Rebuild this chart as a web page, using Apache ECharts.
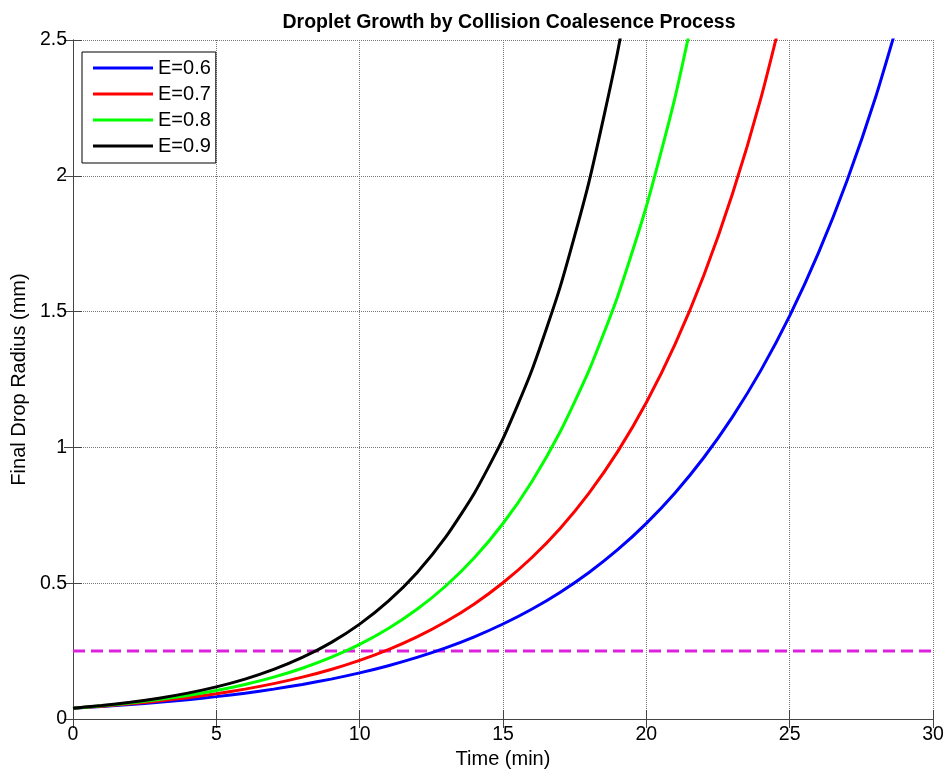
<!DOCTYPE html>
<html>
<head>
<meta charset="utf-8">
<script src="https://cdn.jsdelivr.net/npm/echarts@6/dist/echarts.min.js"></script>
<style>html,body{margin:0;padding:0;background:#fff;}#c{width:948px;height:777px;}</style>
</head>
<body>
<div id="c"></div>
<script>
var titleText = 'Droplet Growth by Collision Coalesence Process';
var seriesNames = ['E=0.6', 'E=0.7', 'E=0.8', 'E=0.9'];
var threshold = 0.25;
var xTicks = [0, 5, 10, 15, 20, 25, 30];
var yTicks = [0, 0.5, 1, 1.5, 2, 2.5];

var timeE06 = [0,1,2,3,4,5,6,7,8,9,10,11,12,13,14,15,16,17,18,19,20,21,22,23,24,25,26,27,28,29];
var radiusE06 = [0.040,0.0462,0.0534,0.0617,0.0713,0.0824,0.0952,0.1100,0.1271,0.1469,0.1698,0.1962,0.2267,0.2619,0.3027,0.3497,0.4041,0.4670,0.5396,0.6235,0.7205,0.8325,0.962,1.1116,1.2845,1.4842,1.715,1.982,2.290,2.646];

var timeE07 = [0,1,2,3,4,5,6,7,8,9,10,11,12,13,14,15,16,17,18,19,20,21,22,23,24,25];
var radiusE07 = [0.040,0.0473,0.0560,0.0663,0.0785,0.0929,0.1100,0.1302,0.1541,0.1824,0.2159,0.2555,0.3024,0.3580,0.4237,0.5015,0.5936,0.7026,0.8316,0.9843,1.1651,1.3790,1.632,1.932,2.287,2.707];

var timeE08 = [0,1,2,3,4,5,6,7,8,9,10,11,12,13,14,15,16,17,18,19,20,21,22];
var radiusE08 = [0.040,0.0485,0.0588,0.0713,0.0865,0.1048,0.1271,0.1541,0.1869,0.2266,0.2747,0.3331,0.4039,0.4897,0.5938,0.7199,0.8729,1.0584,1.2833,1.556,1.887,2.288,2.774];

var timeE09 = [0,1,2,3,4,5,6,7,8,9,10,11,12,13,14,15,16,17,18,19,20];
var radiusE09 = [0.040,0.0497,0.0617,0.0766,0.0952,0.1182,0.1468,0.1824,0.2265,0.2813,0.3494,0.4339,0.5389,0.6693,0.8313,1.0325,1.2824,1.593,1.978,2.457,3.051];

var thresholdTime = [0, 30];

var colors = ['#0000ff', '#ff0000', '#00ff00', '#000000'];
var font = 'Liberation Sans, Arial, Helvetica, sans-serif';

function pairs(t, r) { return t.map(function (v, i) { return [v, r[i]]; }); }

var times = [timeE06, timeE07, timeE08, timeE09];
var radii = [radiusE06, radiusE07, radiusE08, radiusE09];

var series = seriesNames.map(function (name, i) {
  return {
    name: name, type: 'line', data: pairs(times[i], radii[i]),
    showSymbol: false, symbol: 'none', clip: true, smooth: 0.2,
    lineStyle: { color: colors[i], width: 3 }, itemStyle: { color: colors[i] },
    xAxisIndex: 0, yAxisIndex: 0, z: 3 + i
  };
});
series.push({
  name: 'threshold', type: 'line', data: thresholdTime.map(function (t) { return [t, threshold]; }),
  showSymbol: false, symbol: 'none', clip: true,
  lineStyle: { color: '#dd22dd', width: 3, type: [12, 6] },
  xAxisIndex: 0, yAxisIndex: 0, z: 2
});

var chart = echarts.init(document.getElementById('c'));
var axisLineStyle = { show: true, lineStyle: { color: '#444', width: 1 } };
var tickStyle = { show: true, inside: true, length: 9, lineStyle: { color: '#444' } };
chart.setOption({
  backgroundColor: '#fff',
  animation: false,
  title: { text: titleText, left: 504, top: 8, textAlign: 'center',
    textStyle: { fontFamily: font, fontSize: 19.5, fontWeight: 'bold', color: '#000' } },
  legend: {
    data: seriesNames, orient: 'vertical', left: 82, top: 52,
    itemWidth: 60, itemHeight: 3, icon: 'rect', itemGap: 6,
    padding: [6, 5, 7, 11], borderColor: '#000', borderWidth: 1, backgroundColor: '#fff',
    textStyle: { fontFamily: font, fontSize: 20, color: '#000', lineHeight: 20 },
    selectedMode: false
  },
  grid: { left: 73, right: 15, top: 40, bottom: 58 },
  xAxis: [{
    type: 'value', min: 0, max: 30, interval: 5,
    name: 'Time (min)', nameLocation: 'middle', nameGap: 30,
    nameTextStyle: { fontFamily: font, fontSize: 20, color: '#000' },
    axisLine: axisLineStyle, axisTick: tickStyle,
    axisLabel: { fontFamily: font, fontSize: 19.5, color: '#000', margin: 6,
      formatter: function (v) { return xTicks.indexOf(v) >= 0 ? String(v) : ''; } },
    splitLine: { show: true, lineStyle: { type: 'dotted', color: '#777', width: 1 } }
  }, {
    type: 'value', min: 0, max: 30, interval: 5, position: 'top',
    axisLine: axisLineStyle, axisTick: tickStyle,
    axisLabel: { show: false }, splitLine: { show: false }
  }],
  yAxis: [{
    type: 'value', min: 0, max: 2.5, interval: 0.5,
    name: 'Final Drop Radius (mm)', nameLocation: 'middle', nameGap: 41,
    nameTextStyle: { fontFamily: font, fontSize: 20, color: '#000' },
    axisLine: axisLineStyle, axisTick: tickStyle,
    axisLabel: { fontFamily: font, fontSize: 19.5, color: '#000', margin: 6,
      formatter: function (v) { return yTicks.indexOf(v) >= 0 ? String(v) : ''; } },
    splitLine: { show: true, lineStyle: { type: 'dotted', color: '#777', width: 1 } }
  }, {
    type: 'value', min: 0, max: 2.5, interval: 0.5, position: 'right',
    axisLine: axisLineStyle, axisTick: tickStyle,
    axisLabel: { show: false }, splitLine: { show: false }
  }],
  series: series
});
</script>
</body>
</html>
